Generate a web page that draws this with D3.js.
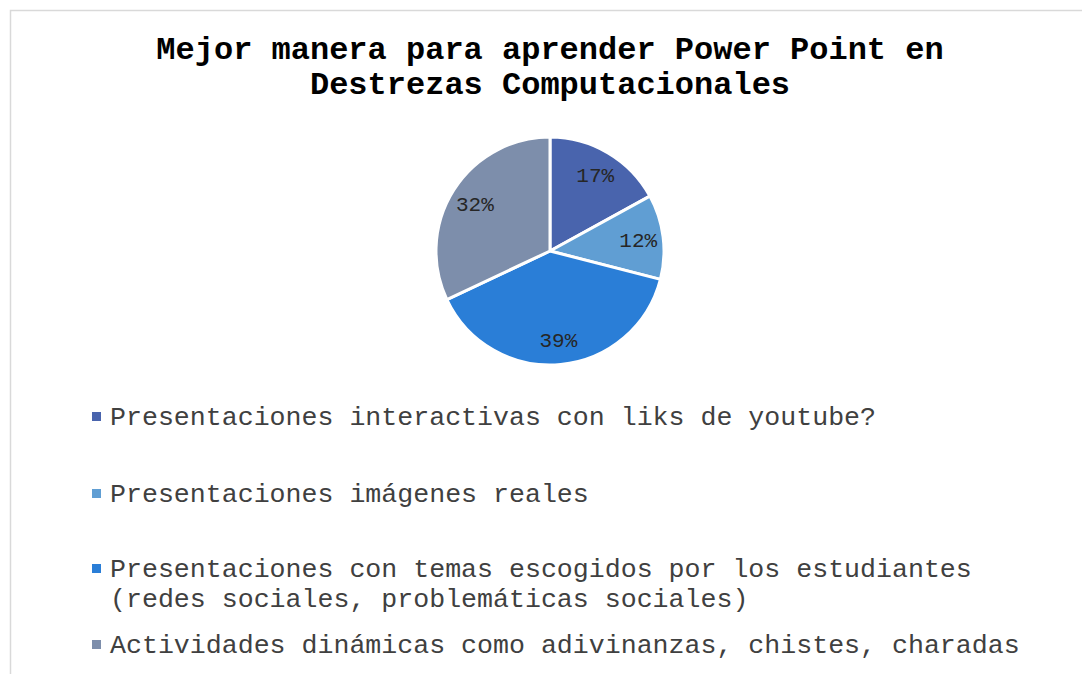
<!DOCTYPE html>
<html><head><meta charset="utf-8">
<script src="https://cdn.jsdelivr.net/npm/d3@7"></script>
<style>body{margin:0;background:#fff;}svg{display:block;}</style>
</head><body>
<script>
const categories = [
  "Presentaciones interactivas con liks de youtube?",
  "Presentaciones imágenes reales",
  "Presentaciones con temas escogidos por los estudiantes (redes sociales, problemáticas sociales)",
  "Actividades dinámicas como adivinanzas, chistes, charadas"
];
const legendLines = [
  ["Presentaciones interactivas con liks de youtube?"],
  ["Presentaciones imágenes reales"],
  ["Presentaciones con temas escogidos por los estudiantes", "(redes sociales, problemáticas sociales)"],
  ["Actividades dinámicas como adivinanzas, chistes, charadas"]
];
const values = [17, 12, 39, 32];
const colors = ["#4964ad", "#609ed3", "#2a7ed7", "#7d8eab"];
const titleLines = ["Mejor manera para aprender Power Point en", "Destrezas Computacionales"];

const W = 1082, H = 674;
const svg = d3.select("body").append("svg").attr("width", W).attr("height", H);
svg.append("rect").attr("x", 10.5).attr("y", 10.5).attr("width", W + 20).attr("height", H + 20)
  .attr("fill", "#fff").attr("stroke", "#d9d9d9").attr("stroke-width", 1.5);

const mono = "'Liberation Mono', 'Courier New', monospace";
svg.append("g").selectAll("text").data(titleLines).join("text")
  .attr("x", 550).attr("y", (d, i) => 59 + i * 35)
  .attr("text-anchor", "middle").attr("font-family", mono).attr("font-weight", "bold")
  .attr("font-size", 32).attr("fill", "#000").text(d => d);

const cx = 550, cy = 251, r = 114;
const pie = d3.pie().sort(null).value(d => d)(values);
const arc = d3.arc().innerRadius(0).outerRadius(r);
const labelArc = d3.arc().innerRadius(r * 0.78).outerRadius(r * 0.78);
const g = svg.append("g").attr("transform", `translate(${cx},${cy})`);
g.selectAll("path").data(pie).join("path")
  .attr("d", arc).attr("fill", (d, i) => colors[i])
  .attr("stroke", "#fff").attr("stroke-width", 3).attr("stroke-linejoin", "round");
g.selectAll("text").data(pie).join("text")
  .attr("transform", d => `translate(${labelArc.centroid(d)})`)
  .attr("text-anchor", "middle").attr("dy", "0.35em")
  .attr("font-family", mono).attr("font-size", 21).attr("fill", "#262626")
  .text(d => d.data + "%");

const legendY = [425, 502, 577, 653];
const lg = svg.append("g");
legendLines.forEach((lines, i) => {
  lg.append("rect").attr("x", 92).attr("y", legendY[i] - 13).attr("width", 9).attr("height", 9)
    .attr("fill", colors[i]);
  lines.forEach((t, j) => {
    lg.append("text").attr("x", 110).attr("y", legendY[i] + j * 30)
      .attr("font-family", mono).attr("font-size", 26.6).attr("fill", "#404040")
      .text(t);
  });
});
</script>
</body></html>
